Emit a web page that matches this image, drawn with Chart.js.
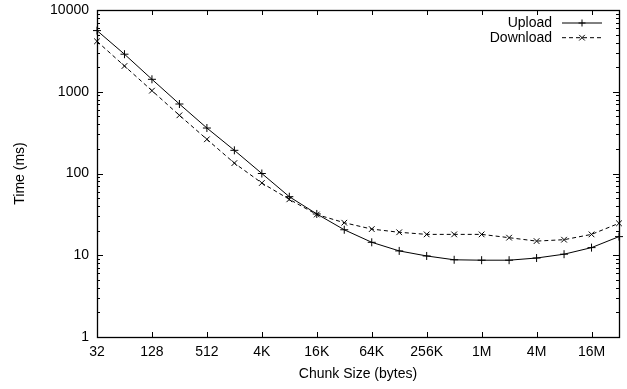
<!DOCTYPE html>
<html>
<head>
<meta charset="utf-8">
<script src="https://cdn.jsdelivr.net/npm/chart.js@4/dist/chart.umd.min.js"></script>
<style>
  body { margin: 0; background: #fff; }
  #wrap { width: 627px; height: 389px; }
</style>
</head>
<body>
<div id="wrap"><canvas id="chart" width="627" height="389"></canvas></div>
<script>
// chunk labels shown on the x axis (every other point)
const tickLabels = ["32", "128", "512", "4K", "16K", "64K", "256K", "1M", "4M", "16M"];
// times in ms, one per chunk size (20 points)
const upload = [5600, 2880, 1420, 708, 360, 192, 100, 52, 32, 20.5, 14.4, 11.3, 9.8, 8.8, 8.7, 8.7, 9.25, 10.3, 12.4, 16.9];
const download = [4140, 2065, 1031, 515, 262, 134, 76.5, 48.3, 31.5, 25, 20.9, 19.1, 18, 18, 18, 16.4, 14.9, 15.5, 18, 24.6];
const yTicks = [1, 10, 100, 1000, 10000];

const FONT = "'Liberation Sans', Arial, Helvetica, sans-serif";
Chart.defaults.font.family = FONT;
Chart.defaults.font.size = 14;
Chart.defaults.color = "#000";

const toPoints = arr => arr.map((v, i) => ({ x: i, y: v }));

// gnuplot style frame: box, inward ticks on all sides, legend on the right
const framePlugin = {
  id: "frame",
  afterDatasetsDraw(chart) {
    const { ctx, chartArea: a, scales } = chart;
    const xs = scales.x, ys = scales.y;
    ctx.save();
    ctx.strokeStyle = "#000";
    ctx.lineWidth = 1;
    ctx.beginPath();
    xs.ticks.forEach(t => {
      const px = Math.round(xs.getPixelForValue(t.value)) + 0.5;
      ctx.moveTo(px, a.bottom); ctx.lineTo(px, a.bottom - 5);
      ctx.moveTo(px, a.top); ctx.lineTo(px, a.top + 5);
    });
    for (let d = 1; d <= 10000; d *= 10) {
      for (let m = 1; m <= 9; m++) {
        const v = d * m;
        if (v > 10000) break;
        const py = Math.round(ys.getPixelForValue(v)) + 0.5;
        const len = m === 1 ? 6 : 3;
        ctx.moveTo(a.left, py); ctx.lineTo(a.left + len, py);
        ctx.moveTo(a.right, py); ctx.lineTo(a.right - len, py);
      }
    }
    ctx.stroke();
    ctx.lineWidth = 1.3;
    ctx.strokeRect(Math.round(a.left) + 0.5, Math.round(a.top) + 0.5,
      Math.round(a.right - a.left), Math.round(a.bottom - a.top));

    // legend
    ctx.font = "14px " + FONT;
    ctx.fillStyle = "#000";
    ctx.textAlign = "right";
    ctx.textBaseline = "middle";
    chart.data.datasets.forEach((ds, i) => {
      const y = 23 + i * 14.7;
      ctx.fillText(ds.label, 552, y);
      ctx.lineWidth = 1;
      ctx.setLineDash(ds.borderDash || []);
      ctx.beginPath();
      ctx.moveTo(562, y); ctx.lineTo(602, y);
      ctx.stroke();
      ctx.setLineDash([]);
      ctx.beginPath();
      const r = 3.5;
      if (ds.pointStyle === "cross") {
        ctx.moveTo(582 - r, y); ctx.lineTo(582 + r, y);
        ctx.moveTo(582, y - r); ctx.lineTo(582, y + r);
      } else {
        ctx.moveTo(582 - r * 0.8, y - r * 0.8); ctx.lineTo(582 + r * 0.8, y + r * 0.8);
        ctx.moveTo(582 - r * 0.8, y + r * 0.8); ctx.lineTo(582 + r * 0.8, y - r * 0.8);
      }
      ctx.stroke();
    });
    ctx.restore();
  }
};

new Chart(document.getElementById("chart"), {
  type: "line",
  data: {
    datasets: [
      {
        label: "Upload",
        data: toPoints(upload),
        borderColor: "#000",
        borderWidth: 1,
        pointStyle: "cross",
        pointRadius: 4,
        pointBorderColor: "#000",
        pointBorderWidth: 1,
        tension: 0,
        clip: false
      },
      {
        label: "Download",
        data: toPoints(download),
        borderColor: "#000",
        borderWidth: 1,
        borderDash: [4, 3],
        pointStyle: "crossRot",
        pointRadius: 4,
        pointBorderColor: "#000",
        pointBorderWidth: 1,
        tension: 0,
        clip: false
      }
    ]
  },
  options: {
    responsive: false,
    animation: false,
    layout: { padding: { top: 10, right: 8, left: 0, bottom: 0 } },
    plugins: {
      legend: { display: false },
      tooltip: { enabled: false }
    },
    scales: {
      x: {
        type: "linear",
        min: 0,
        max: upload.length - 1,
        afterBuildTicks: s => { s.ticks = tickLabels.map((_, i) => ({ value: i * 2 })); },
        afterFit: s => { s.height = 52; s.paddingLeft = 0; s.paddingRight = 0; },
        ticks: {
          autoSkip: false,
          maxRotation: 0,
          padding: 7,
          callback: v => tickLabels[v / 2]
        },
        grid: { display: false, drawTicks: false },
        border: { display: false },
        title: { display: true, text: "Chunk Size (bytes)", padding: { top: 0, bottom: 6 } }
      },
      y: {
        type: "logarithmic",
        min: 1,
        max: 10000,
        afterBuildTicks: s => { s.ticks = yTicks.map(v => ({ value: v })); },
        afterFit: s => { s.width = 97; s.paddingTop = 0; s.paddingBottom = 0; },
        ticks: {
          padding: 8,
          callback: v => String(v)
        },
        grid: { display: false, drawTicks: false },
        border: { display: false },
        title: { display: true, text: "Time (ms)", padding: { top: 12, bottom: 0 } }
      }
    }
  },
  plugins: [framePlugin]
});
</script>
</body>
</html>
